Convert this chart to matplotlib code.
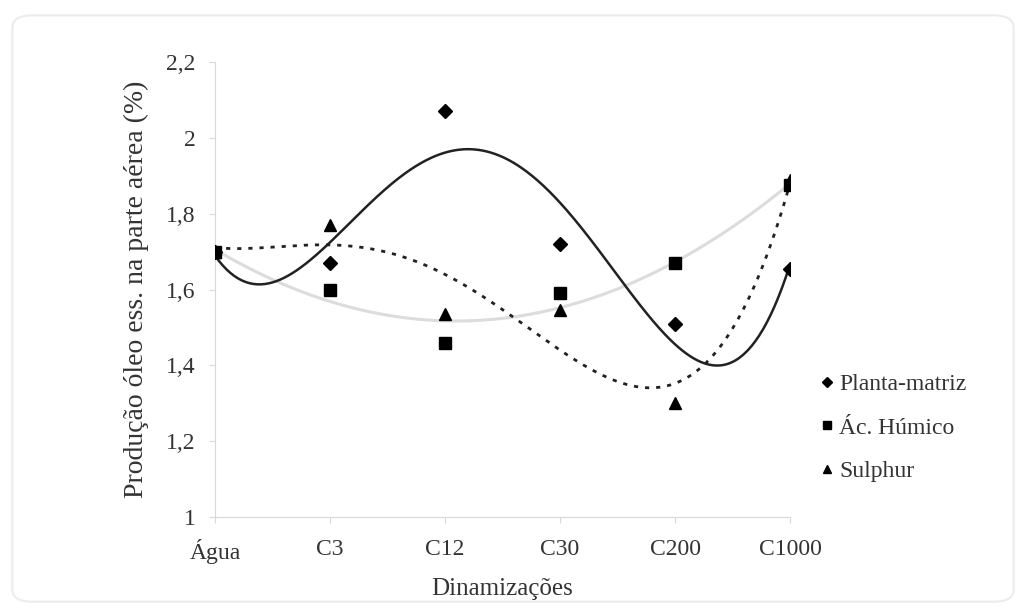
import numpy as np
import matplotlib.pyplot as plt
from matplotlib.patches import FancyBboxPatch
from matplotlib.ticker import FuncFormatter

plt.rcParams["font.family"] = ["Liberation Serif", "DejaVu Serif"]

# categories and values
dinamizacoes = ["Água", "C3", "C12", "C30", "C200", "C1000"]
planta_matriz = [1.70, 1.67, 2.07, 1.72, 1.51, 1.655]
ac_humico = [1.70, 1.60, 1.46, 1.59, 1.67, 1.875]
sulphur = [1.70, 1.77, 1.535, 1.545, 1.30, 1.89]

x = np.arange(len(dinamizacoes))
xs = np.linspace(0, len(dinamizacoes) - 1, 300)

fig = plt.figure(figsize=(10.26, 6.14), dpi=100)
ax = fig.add_axes([0.2096, 0.158, 0.5604, 0.741])

# faint rounded chart border (Excel style)
fig.patches.append(FancyBboxPatch((0.012, 0.02), 0.976, 0.955,
                                  boxstyle="round,pad=0,rounding_size=0.02",
                                  transform=fig.transFigure, fill=False,
                                  edgecolor="#ececec", linewidth=1.5))

# polynomial trend lines
p1 = np.polyfit(x, planta_matriz, 4)
p2 = np.polyfit(x, ac_humico, 2)
p3 = np.polyfit(x, sulphur, 4)
ax.plot(xs, np.polyval(p2, xs), color="#dcdcdc", lw=2.2, zorder=1)
ax.plot(xs, np.polyval(p3, xs), color="#222222", lw=2, ls=(0, (1.5, 2.5)), zorder=2)
ax.plot(xs, np.polyval(p1, xs), color="#222222", lw=1.8, zorder=2)

# points
ax.plot(x, planta_matriz, "D", color="black", ms=7, ls="none", label="Planta-matriz", zorder=3)
ax.plot(x, ac_humico, "s", color="black", ms=8, ls="none", label="Ác. Húmico", zorder=3)
ax.plot(x, sulphur, "^", color="black", ms=8, ls="none", label="Sulphur", zorder=3)

ax.set_xlim(0, 5)
ax.set_ylim(1, 2.2)
ax.set_xticks(x)
ax.set_xticklabels(dinamizacoes)
ax.set_yticks(np.arange(1, 2.21, 0.2))
ax.yaxis.set_major_formatter(FuncFormatter(lambda v, p: ("%g" % round(v, 1)).replace(".", ",")))

for s in ["top", "right"]:
    ax.spines[s].set_visible(False)
for s in ["left", "bottom"]:
    ax.spines[s].set_color("#d8d8d8")
ax.tick_params(colors="#d8d8d8", labelcolor="#333333", labelsize=17, length=4)
ax.tick_params(axis="x", pad=12)
ax.tick_params(axis="y", pad=10)

ax.set_xlabel("Dinamizações", fontsize=18, color="#333333", labelpad=10)
ax.set_ylabel("Produção óleo ess. na parte aérea (%)", fontsize=20, color="#333333", labelpad=12)

leg = ax.legend(loc="center left", bbox_to_anchor=(1.02, 0.196), frameon=False,
                fontsize=17, handlelength=0.4, handletextpad=0.3, labelspacing=0.93,
                markerscale=0.7)
for t in leg.get_texts():
    t.set_color("#333333")

fig.savefig("out.png", dpi=100)
